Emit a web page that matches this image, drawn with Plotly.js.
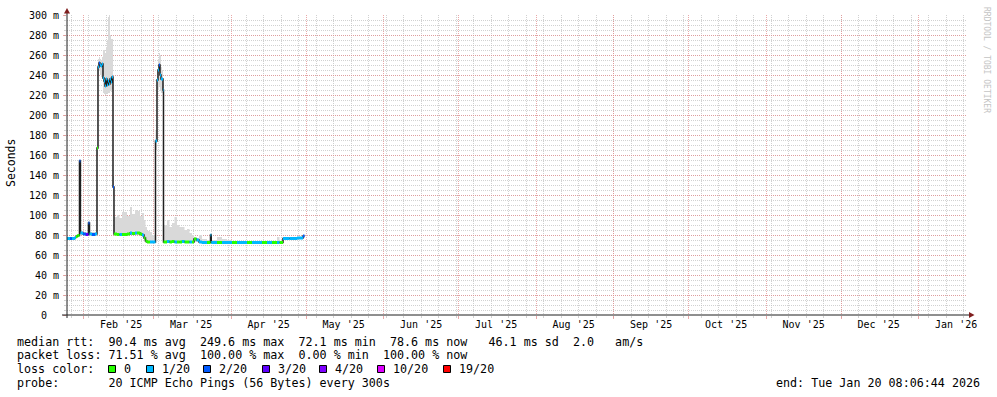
<!DOCTYPE html>
<html><head><meta charset="utf-8">
<script src="https://cdn.plot.ly/plotly-3.0.1.min.js"></script>
<style>html,body{margin:0;padding:0;background:#fff;}#chart{width:997px;height:397px;}</style>
</head><body><div id="chart"></div>
<script>
// ---------- data ----------
const times = [
"2025-01-25 08:00","2025-01-26 13:00","2025-01-27 08:00","2025-01-28 13:00","2025-01-28 22:00","2025-01-29 13:00","2025-01-30 08:00","2025-01-30 17:00","2025-01-31 18:00","2025-02-01 22:00",
"2025-02-02 22:00","2025-02-03 08:00","2025-02-04 08:00","2025-02-05 13:00","2025-02-06 08:00","2025-02-06 17:36","2025-02-07 03:12","2025-02-07 12:48","2025-02-07 22:24","2025-02-08 08:00",
"2025-02-08 17:36","2025-02-09 03:12","2025-02-09 12:48","2025-02-09 22:24","2025-02-10 08:00","2025-02-10 17:36","2025-02-11 03:12","2025-02-11 12:48","2025-02-11 22:24","2025-02-12 08:00",
"2025-02-12 17:36","2025-02-13 03:12","2025-02-14 08:00","2025-02-15 08:00","2025-02-16 08:00","2025-02-18 08:00","2025-02-19 12:48","2025-02-20 08:00","2025-02-21 12:48","2025-02-22 08:00",
"2025-02-23 12:48","2025-02-24 08:00","2025-02-25 03:12","2025-02-25 17:36","2025-02-26 08:00","2025-02-27 12:48","2025-02-28 08:00","2025-03-01 17:36","2025-03-02 08:00","2025-03-02 17:36",
"2025-03-03 03:12","2025-03-03 12:48","2025-03-03 22:24","2025-03-04 08:00","2025-03-04 17:36","2025-03-04 22:24","2025-03-06 08:00","2025-03-07 08:00","2025-03-08 08:00","2025-03-09 08:00",
"2025-03-10 08:00","2025-03-11 08:00","2025-03-12 08:00","2025-03-13 08:00","2025-03-14 08:00","2025-03-15 08:00","2025-03-16 08:00","2025-03-17 03:12","2025-03-18 03:12","2025-03-19 03:12",
"2025-03-20 08:00","2025-03-22 08:00","2025-03-23 17:36","2025-03-24 01:00","2025-03-26 08:00","2025-03-28 08:00","2025-03-30 08:00","2025-04-01 08:00","2025-04-03 08:00","2025-04-05 08:00",
"2025-04-07 08:00","2025-04-09 08:00","2025-04-11 08:00","2025-04-13 08:00","2025-04-15 08:00","2025-04-17 08:00","2025-04-19 08:00","2025-04-20 08:00","2025-04-21 17:36","2025-04-24 08:00",
"2025-04-27 08:00","2025-04-29 17:36","2025-04-30 08:00"];
const medianMs = [
76.5,76.5,76.5,77.5,78.5,79.5,154,82,81,80.5,
92,81,80.5,81,167,248,252,250,249,251,
237,234,229,236,230,234,231,236,233,238,
128,81,80.5,80.5,80.5,81,82,81.5,82,82,
81,80,77,74,73,73,73,174,235,245,
250,240,236,236,225,73,73.5,73,73.5,73,
73,73,73.5,73,73,73,73,76,75,73,
72.5,72.5,80,72.5,72.5,72.5,72.5,72.5,72.5,72.5,
72.5,72.5,72.5,72.5,72.5,72.5,72.5,72.5,76.5,76.5,
77,79,79];
const lossOf20 = [
1,2,1,1,0,0,2,1,2,3,
2,1,2,1,0,1,2,1,1,1,
1,1,1,1,1,1,1,1,1,1,
2,0,0,1,0,0,1,0,1,0,
0,1,0,0,0,1,1,1,1,1,
2,1,1,1,1,0,1,0,0,1,
0,0,1,0,0,1,0,0,1,1,
1,0,1,1,0,1,1,0,1,1,
0,1,1,0,1,0,1,0,1,1,
1,2,2];
const smokeLoMs = [
76,76,76,77,78,79,150,80,80,80,
88,80,80,80,160,240,244,240,238,236,
222,221,220,222,221,222,222,224,223,226,
120,80,80,80,80,80,80,80,80,80,
79,78,74,72,72,72,72,165,220,225,
228,224,222,222,215,72,72,72,72,72,
72,72,72,72,72,72,72,73,73,72,
72,72,72,72,72,72,72,72,72,72,
72,72,72,72,72,72,72,72,76,76,
76,77,77];
const smokeHiMs = [
78,78,78,79,80,81,156,84,83,83,
94,83,83,83,170,256,258,256,255,258,
265,265,262,268,275,298,300,280,276,276,
140,98,100,97,103,99,108,101,105,104,
99,102,95,88,84,83,80,185,245,255,
262,260,248,245,232,90,95,88,92,98,
90,88,88,85,86,82,80,78,77,80,
76,75,81,75,78,76,75,74,74,74,
74,74,74,74,74,74,78,74,78,78,
78,80,80];

const xRange = ["2025-01-25 08:06:44","2026-01-20 08:06:44"];
const monthStarts = ["2025-02-01","2025-03-01","2025-04-01","2025-05-01","2025-06-01","2025-07-01","2025-08-01","2025-09-01","2025-10-01","2025-11-01","2025-12-01","2026-01-01"];
const monthLabelDates = ["2025-02-16","2025-03-16","2025-04-16","2025-05-16","2025-06-16","2025-07-16","2025-08-16","2025-09-16","2025-10-16","2025-11-16","2025-12-16","2026-01-16"];
const monthLabels = ["Feb '25","Mar '25","Apr '25","May '25","Jun '25","Jul '25","Aug '25","Sep '25","Oct '25","Nov '25","Dec '25","Jan '26"];
const yTickVals = [0,20,40,60,80,100,120,140,160,180,200,220,240,260,280,300];
const yTickText = ["0\u00a0\u00a0","20 m","40 m","60 m","80 m","100 m","120 m","140 m","160 m","180 m","200 m","220 m","240 m","260 m","280 m","300 m"];
const lossLevels = [0,1,2,3,4,10,19];
const lossLabels = ["0","1/20","2/20","3/20","4/20","10/20","19/20"];
const lossColors = ["#26ff00","#00b8ff","#0059ff","#5e00ff","#7e00ff","#dd00ff","#ff0000"];
const legendLines = [
 "median rtt:  90.4 ms avg  249.6 ms max  72.1 ms min  78.6 ms now   46.1 ms sd  2.0   am/s",
 "packet loss: 71.51 % avg  100.00 % max  0.00 % min  100.00 % now",
 "loss color:",
 "probe:       20 ICMP Echo Pings (56 Bytes) every 300s"
];
const endText = "end: Tue Jan 20 08:06:44 2026";

// ---------- layout helpers ----------
const L = 67, T = 15, W = 900, H = 300;
const px = x => (x - L) / W;
const py = y => (T + H - y) / H;
const MONO = "DejaVu Sans Mono, monospace";
const nb = s => s.replace(/ /g, "\u00a0");
const MAJ = "rgba(225,140,140,0.75)";
const MIN = "rgba(190,190,190,0.7)";

function lossClass(l) { let k = 0; for (let j = 0; j < lossLevels.length; j++) if (l >= lossLevels[j]) k = j; return k; }

const traces = [];
traces.push({x: times, y: smokeLoMs, mode: "lines", line: {width: 0, shape: "hv"}, hoverinfo: "skip", showlegend: false});
traces.push({x: times, y: smokeHiMs, mode: "lines", line: {width: 0, shape: "hv"}, fill: "tonexty", fillcolor: "#d9d9d9", hoverinfo: "skip", showlegend: false});
traces.push({x: times, y: medianMs, mode: "lines", line: {width: 1.5, color: "#202020", shape: "hv"}, hoverinfo: "skip", showlegend: false});
for (let c = 0; c < lossLevels.length; c++) {
  const xs = [], ys = [];
  for (let i = 0; i < times.length - 1; i++) {
    if (lossClass(lossOf20[i]) === c) { xs.push(times[i], times[i + 1], null); ys.push(medianMs[i], medianMs[i], null); }
  }
  if (xs.length) traces.push({x: xs, y: ys, mode: "lines", line: {width: 3, color: lossColors[c]}, connectgaps: false, hoverinfo: "skip", showlegend: false});
}
traces.push({x: [], y: [], xaxis: "x2", yaxis: "y", mode: "markers", hoverinfo: "skip", showlegend: false});

const shapes = [
  {type: "line", xref: "paper", yref: "paper", x0: 0, x1: 0, y0: py(318), y1: py(12), line: {color: "#1f1f1f", width: 1}},
  {type: "line", xref: "paper", yref: "paper", x0: px(62), x1: px(970), y0: 0, y1: 0, line: {color: "#1f1f1f", width: 1}},
  {type: "path", xref: "paper", yref: "paper", path: `M ${px(64)} ${py(13.5)} L ${px(70)} ${py(13.5)} L ${px(67)} ${py(8)} Z`, fillcolor: "#801f1f", line: {width: 0}},
  {type: "path", xref: "paper", yref: "paper", path: `M ${px(969)} ${py(312)} L ${px(969)} ${py(318)} L ${px(974.5)} ${py(315)} Z`, fillcolor: "#801f1f", line: {width: 0}}
];
const annotations = [];
annotations.push({xref: "paper", yref: "paper", x: px(11), y: py(163), text: "Seconds", textangle: -90, showarrow: false, font: {family: MONO, size: 11.5, color: "#000"}, xanchor: "center", yanchor: "middle"});
annotations.push({xref: "paper", yref: "paper", x: px(987), y: py(60), text: nb("RRDTOOL / TOBI OETIKER"), textangle: 90, showarrow: false, font: {family: MONO, size: 8, color: "#c4c4c4"}, xanchor: "center", yanchor: "middle"});
const lineY = [341.7, 355, 369.3, 383.3];
legendLines.forEach((s, i) => annotations.push({xref: "paper", yref: "paper", x: px(15), y: py(lineY[i]), text: nb(s), showarrow: false, xanchor: "left", yanchor: "middle", font: {family: MONO, size: 11.7, color: "#000"}}));
const boxX = [108, 146, 203, 262, 319, 377, 443];
lossLabels.forEach((lab, i) => {
  shapes.push({type: "rect", xref: "paper", yref: "paper", x0: px(boxX[i] + 0.5), x1: px(boxX[i] + 7.5), y0: py(372.5), y1: py(365.5), fillcolor: lossColors[i], line: {color: "#000", width: 1}});
  annotations.push({xref: "paper", yref: "paper", x: px(boxX[i] + 14), y: py(lineY[2]), text: lab, showarrow: false, xanchor: "left", yanchor: "middle", font: {family: MONO, size: 11.7, color: "#000"}});
});
annotations.push({xref: "paper", yref: "paper", x: px(982), y: py(lineY[3]), text: nb(endText), showarrow: false, xanchor: "right", yanchor: "middle", font: {family: MONO, size: 11.7, color: "#000"}});

const layout = {
  width: 997, height: 397,
  margin: {l: L, r: 997 - L - W, t: T, b: 397 - T - H, pad: 0},
  paper_bgcolor: "#ffffff", plot_bgcolor: "#ffffff",
  showlegend: false, hovermode: false,
  xaxis: {type: "date", range: xRange, autorange: false, fixedrange: true,
    tickmode: "array", tickvals: monthStarts, showticklabels: false,
    ticks: "outside", ticklen: 3, tickcolor: MAJ, tickwidth: 1,
    showgrid: true, gridcolor: MAJ, griddash: "1px,1px", gridwidth: 1,
    minor: {tickmode: "linear", tick0: "2025-01-27", dtick: 7 * 86400000, showgrid: true, gridcolor: MIN, griddash: "1px,1px", gridwidth: 1, ticks: "outside", ticklen: 2, tickcolor: MIN},
    zeroline: false, showline: false},
  xaxis2: {type: "date", overlaying: "x", anchor: "y", side: "bottom", range: xRange, autorange: false, fixedrange: true,
    tickmode: "array", tickvals: monthLabelDates, ticktext: monthLabels, ticks: "", ticklabelstandoff: 2, showgrid: false, zeroline: false, showline: false,
    tickfont: {family: MONO, size: 10, color: "#000"}},
  yaxis: {range: [0, 300], autorange: false, fixedrange: true,
    tickmode: "array", tickvals: yTickVals, ticktext: yTickText,
    ticks: "outside", ticklen: 3, tickcolor: MAJ, ticklabelstandoff: 2,
    showgrid: true, gridcolor: MAJ, griddash: "1px,1px", gridwidth: 1,
    minor: {dtick: 5, showgrid: true, gridcolor: MIN, griddash: "1px,1px", gridwidth: 1, ticks: "outside", ticklen: 2, tickcolor: MIN},
    zeroline: false, showline: false,
    tickfont: {family: MONO, size: 10, color: "#000"}},
  shapes: shapes,
  annotations: annotations
};
Plotly.newPlot("chart", traces, layout, {staticPlot: true, displayModeBar: false});
</script></body></html>
